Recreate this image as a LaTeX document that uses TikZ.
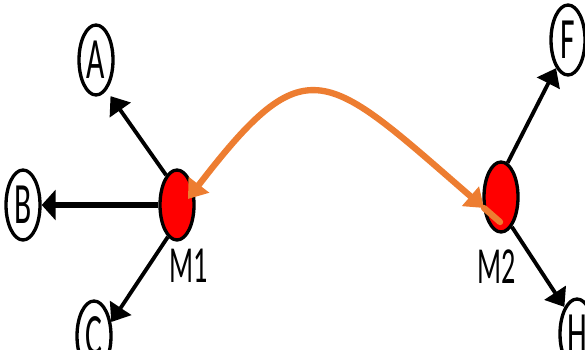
\documentclass[tikz,border=0pt]{standalone}
\usepackage{fontspec}
\setmainfont{Carlito}
\usepackage{graphicx}
\usetikzlibrary{arrows.meta, shapes.geometric}
\definecolor{linkorange}{RGB}{237,125,49}
\newcommand{\tallchar}[1]{\scalebox{1}[1.85]{#1}}
\tikzset{
  letter/.style={ellipse, draw, line width=1.9pt, fill=white, minimum width=0.68cm, minimum height=1.40cm, inner sep=0pt, font=\fontsize{18}{18}\selectfont},
  mnode/.style={letter, fill=red},
  mlabel/.style={inner sep=0pt, font=\fontsize{16}{16}\selectfont},
  link/.style={-{Triangle[length=3.4mm, width=5mm]}, line width=2.2pt},
  biglink/.style={-{Triangle[length=2.8mm, width=6mm]}, line width=3.6pt},
  handover/.style={{Triangle[length=3.6mm, width=5mm]}-{Triangle[length=3.6mm, width=5mm]}, draw=linkorange, line width=3.6pt},
}

\begin{document}
\begin{tikzpicture}
    \useasboundingbox (0,0) rectangle (11.70,6.98);
    \node[letter] (A) at (1.92,5.78) {\tallchar{A}};
    \node[letter] (B) at (0.46,2.88) {\tallchar{B}};
    \node[letter] (C) at (1.88,0.26) {\tallchar{C}};
    \node[letter] (F) at (11.36,6.18) {\tallchar{F}};
    \node[letter] (H) at (11.54,0.30) {\tallchar{H}};
    \node[mnode] (M1) at (3.54,2.88) {};
    \node[mnode] (M2) at (10.02,3.04) {};
    \node[mlabel] (m1text) at (3.77,1.67) {\tallchar{M1}};
    \node[mlabel] (m2text) at (9.94,1.64) {\tallchar{M2}};
    \draw[link, shorten >=4pt] (M1.110) -- (A.-71);
    \draw[biglink] (M1.west) -- (B.east);
    \draw[link] (M1.-106) -- (C.39);
    \draw[link] (M2.79) -- (F.-113);
    \draw[link] (M2.-70) -- (H.115);
    % orange exchange between the two red nodes
    \coordinate (m1in) at ([shift={(0.22,0.12)}]M1.center);
    \coordinate (m2in) at ([shift={(-0.34,-0.22)}]M2.center);
    \coordinate (m2tail) at ([shift={(-0.02,-0.50)}]M2.center);
    \draw[handover] (m1in) .. controls (6.14,6.10) and (6.50,5.58) .. (m2in);
    \draw[draw=linkorange, line width=3.6pt, line cap=round] (m2in) -- (m2tail);
\end{tikzpicture}
\end{document}
